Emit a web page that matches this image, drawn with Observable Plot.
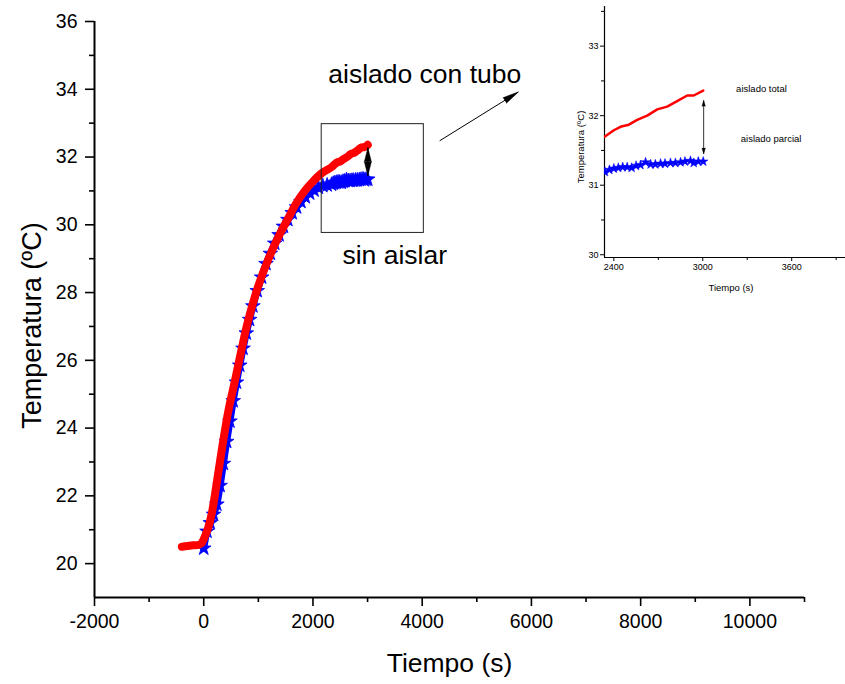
<!DOCTYPE html>
<html><head><meta charset="utf-8">
<script src="https://cdn.jsdelivr.net/npm/d3@7"></script>
<script src="https://cdn.jsdelivr.net/npm/@observablehq/plot@0.6"></script>
<style>
body{margin:0;background:#fff;}
#wrap{position:relative;width:845px;height:684px;}
#inset{position:absolute;left:560px;top:0;}
svg{background:transparent !important;}
</style></head><body><div id="wrap"><div id="main"></div><div id="inset"></div></div>
<script>
// "aislado con tubo" (red circles)
const redTime = [-400,-300,-200,-100,-40,20,80,150,240,330,450,572,690,810,1000,1200,1400,1550,1700,1850,2000,2160,2340,2400,2445,2501,2558,2625,2693,2760,2827,2895,2939,3003];
const redTemp = [20.5,20.52,20.54,20.55,20.6,20.8,21.05,21.5,22.4,23.35,24.5,25.4,26.3,27.15,28.2,29.05,29.75,30.2,30.65,31.0,31.28,31.52,31.70,31.79,31.84,31.87,31.94,32.0,32.09,32.13,32.21,32.29,32.29,32.36];
// "sin aislar" (blue stars)
const blueTime = [0,60,120,180,240,300,360,420,480,540,600,660,720,780,840,900,980,1060,1140,1220,1300,1380,1460,1540,1620,1700,1780,1860,1940,2020,2100,2180,2260,2340,2370,2400,2430,2460,2490,2520,2550,2580,2614,2648,2680,2715,2745,2782,2815,2850,2880,2917,2939,2970,3003];
const blueTemp = [20.45,20.95,21.2,21.45,21.75,22.3,22.95,23.6,24.2,24.8,25.35,25.85,26.35,26.8,27.2,27.6,28.05,28.45,28.85,29.15,29.45,29.7,29.95,30.15,30.35,30.52,30.68,30.82,30.93,31.02,31.1,31.15,31.17,31.19,31.22,31.24,31.25,31.26,31.26,31.25,31.28,31.29,31.33,31.30,31.30,31.31,31.31,31.32,31.32,31.33,31.34,31.35,31.32,31.34,31.34];

// main axes
const xDomain = [-2000, 11000];
const yDomain = [19, 36];
const xMajor = [-2000,0,2000,4000,6000,8000,10000];
const xMinor = [-1000,1000,3000,5000,7000,9000,11000];
const yMajor = [20,22,24,26,28,30,32,34,36];
const yMinor = [21,23,25,27,29,31,33,35];
const xTitle = "Tiempo (s)";
const yTitle = "Temperatura (ºC)";

// main annotations
const zoomBox = [{x1: 2160, x2: 4030, y1: 29.76, y2: 32.97}];
const gapArrow = [{x: 3005, y1: 32.28, y2: 31.45, ym: 31.86}];
const tuboLabel = [{x: 4047, y: 34.45, text: "aislado con tubo"}];
const sinLabel = [{x: 3497, y: 29.09, text: "sin aislar"}];
const tuboArrow = [{x1: 4320, y1: 32.48, x2: 5760, y2: 33.92}];

// inset axes
const ixDomain = [2337, 3963];
const iyDomain = [29.96, 33.57];
const ixMajor = [2400, 3000, 3600];
const ixMinor = [2700, 3300, 3900];
const iyMajor = [30, 31, 32, 33];
const iyMinor = [30.5, 31.5, 32.5, 33.5];
const ixTitle = "Tiempo (s)";
const iyTitle = "Temperatura (ºC)";
const insetLabels = [{x: 3396, y: 32.39, text: "aislado total"}, {x: 3461, y: 31.66, text: "aislado parcial"}];
const insetArrow = [{x: 3006, y1: 32.22, y2: 31.45, ym: 31.835}];

const red = redTime.map((t, i) => ({t, T: redTemp[i]}));
const blue = blueTime.map((t, i) => ({t, T: blueTemp[i]}));
const FONT = "'Liberation Sans', Arial, sans-serif";
const fmt = d => String(d);

const main = Plot.plot({
  width: 845, height: 684,
  marginLeft: 94, marginRight: 41, marginTop: 21, marginBottom: 87,
  style: {fontFamily: FONT, color: "#000", background: "transparent"},
  x: {domain: xDomain},
  y: {domain: yDomain},
  marks: [
    Plot.axisY({ticks: yMajor, tickSize: 9, tickPadding: 8, fontSize: 19.5, tickFormat: fmt, label: null, strokeWidth: 1.6}),
    Plot.axisY({ticks: yMinor, tickSize: 5, tickFormat: () => "", label: null, strokeWidth: 1.6}),
    Plot.axisX({ticks: xMajor, tickSize: 9, tickPadding: 8, fontSize: 19.5, tickFormat: fmt, label: null, strokeWidth: 1.6}),
    Plot.axisX({ticks: xMinor, tickSize: 5, tickFormat: () => "", label: null, strokeWidth: 1.6}),
    Plot.ruleX([xDomain[0]], {stroke: "#000", strokeWidth: 2}),
    Plot.ruleY([yDomain[0]], {stroke: "#000", strokeWidth: 2}),
    Plot.text([xTitle], {frameAnchor: "bottom", dy: 66, fontSize: 26.5, lineAnchor: "middle", textAnchor: "middle"}),
    Plot.text([yTitle], {frameAnchor: "left", dx: -62, dy: 16, rotate: -90, fontSize: 27, lineAnchor: "middle", textAnchor: "middle"}),
    Plot.line(blue, {x: "t", y: "T", stroke: "#0000ff", strokeWidth: 7, curve: "catmull-rom"}),
    Plot.dot(blue, {x: "t", y: "T", symbol: "star", r: 4.6, fill: "#0000ff", stroke: "#0000ff", strokeWidth: 0.8}),
    Plot.line(red, {x: "t", y: "T", stroke: "#ff0000", strokeWidth: 8, strokeLinecap: "round", strokeLinejoin: "round", curve: "catmull-rom"}),
    Plot.rect(zoomBox, {x1: "x1", x2: "x2", y1: "y1", y2: "y2", fill: "none", stroke: "#222", strokeWidth: 1}),
    Plot.link(gapArrow, {x1: "x", x2: "x", y1: "y1", y2: "y2", stroke: "#000", strokeWidth: 1.2}),
    Plot.vector(gapArrow, {x: "x", y: "ym", length: 14, rotate: 0, shape: "spike", r: 3.5, anchor: "start", fill: "#000", stroke: "#000", strokeWidth: 0.5}),
    Plot.vector(gapArrow, {x: "x", y: "ym", length: 14, rotate: 180, shape: "spike", r: 3.5, anchor: "start", fill: "#000", stroke: "#000", strokeWidth: 0.5}),
    Plot.link(tuboArrow, {x1: "x1", y1: "y1", x2: "x2", y2: "y2", stroke: "#000", strokeWidth: 1}),
    Plot.vector(tuboArrow, {x: "x2", y: "y2", length: 16, rotate: 58, shape: "spike", r: 3.2, anchor: "end", fill: "#000", stroke: "#000", strokeWidth: 0.5}),
    Plot.text(tuboLabel, {x: "x", y: "y", text: "text", fontSize: 26.5, lineAnchor: "middle"}),
    Plot.text(sinLabel, {x: "x", y: "y", text: "text", fontSize: 26.5, lineAnchor: "middle"})
  ]
});
document.getElementById("main").append(main);

const inset = Plot.plot({
  width: 285, height: 310,
  marginLeft: 44, marginRight: 0, marginTop: 6, marginBottom: 53,
  style: {fontFamily: FONT, color: "#000", background: "transparent"},
  x: {domain: ixDomain},
  y: {domain: iyDomain},
  marks: [
    Plot.axisY({ticks: iyMajor, tickSize: 4, tickPadding: 2, fontSize: 9, tickFormat: fmt, label: null, strokeWidth: 1}),
    Plot.axisY({ticks: iyMinor, tickSize: 3, tickFormat: () => "", label: null, strokeWidth: 1}),
    Plot.axisX({ticks: ixMajor, tickSize: 4, tickPadding: 2, fontSize: 9, tickFormat: fmt, label: null, strokeWidth: 1}),
    Plot.axisX({ticks: ixMinor, tickSize: 3, tickFormat: () => "", label: null, strokeWidth: 1}),
    Plot.ruleX([ixDomain[0]], {stroke: "#000", strokeWidth: 1.2}),
    Plot.ruleY([iyDomain[0]], {stroke: "#000", strokeWidth: 1.2}),
    Plot.text([ixTitle], {frameAnchor: "bottom", dy: 30, dx: 6, fontSize: 9.5, lineAnchor: "middle", textAnchor: "middle"}),
    Plot.text([iyTitle], {frameAnchor: "left", dx: -24, dy: 15, rotate: -90, fontSize: 9.5, lineAnchor: "middle", textAnchor: "middle"}),
    Plot.line(blue, {x: "t", y: "T", stroke: "#0000ff", strokeWidth: 1.5, clip: true}),
    Plot.dot(blue, {x: "t", y: "T", symbol: "star", r: 3, fill: "#0000ff", stroke: "#0000ff", strokeWidth: 0.5, clip: true}),
    Plot.line(red, {x: "t", y: "T", stroke: "#ff0000", strokeWidth: 2.5, clip: true}),
    Plot.link(insetArrow, {x1: "x", x2: "x", y1: "y1", y2: "y2", stroke: "#000", strokeWidth: 0.8}),
    Plot.vector(insetArrow, {x: "x", y: "y1", length: 6, rotate: 0, shape: "spike", r: 1.8, anchor: "end", fill: "#000", stroke: "#000", strokeWidth: 0.3}),
    Plot.vector(insetArrow, {x: "x", y: "y2", length: 6, rotate: 180, shape: "spike", r: 1.8, anchor: "end", fill: "#000", stroke: "#000", strokeWidth: 0.3}),
    Plot.text(insetLabels, {x: "x", y: "y", text: "text", fontSize: 9.5, lineAnchor: "middle"})
  ]
});
document.getElementById("inset").append(inset);
</script>
</body></html>
